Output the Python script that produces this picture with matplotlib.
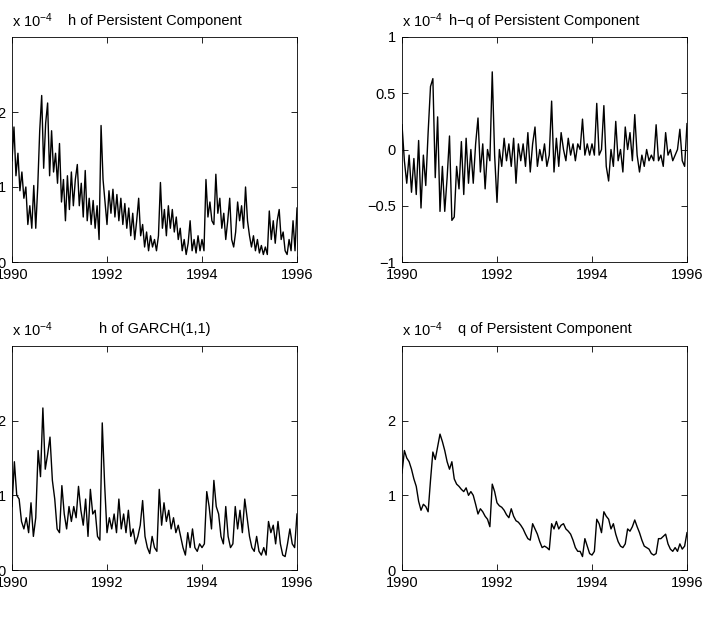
import numpy as np
import matplotlib.pyplot as plt

plt.rcParams['font.family'] = ['Liberation Sans', 'DejaVu Sans']
plt.rcParams['mathtext.fontset'] = 'custom'
plt.rcParams['mathtext.rm'] = 'Liberation Sans'
plt.rcParams['mathtext.it'] = 'Liberation Sans:italic'

# values in units of 1e-4
h_persistent = [
    1.35, 1.80, 1.15, 1.45, 0.95, 1.20, 0.85, 1.00, 0.50, 0.75, 0.45, 1.02,
    0.45, 1.00, 1.75, 2.22, 1.25, 1.85, 2.12, 1.15, 1.75, 1.20, 1.45, 1.05,
    1.58, 0.80, 1.10, 0.55, 1.15, 0.70, 1.20, 0.75, 1.10, 1.30, 0.75, 1.05,
    0.60, 1.22, 0.55, 0.85, 0.50, 0.82, 0.45, 0.75, 0.30, 1.82, 1.10, 0.80,
    0.50, 0.95, 0.65, 0.97, 0.60, 0.90, 0.55, 0.85, 0.50, 0.78, 0.45, 0.72,
    0.35, 0.65, 0.30, 0.55, 0.85, 0.35, 0.50, 0.20, 0.40, 0.15, 0.35, 0.20,
    0.30, 0.15, 0.35, 1.06, 0.45, 0.70, 0.35, 0.75, 0.45, 0.70, 0.40, 0.60,
    0.30, 0.45, 0.15, 0.30, 0.10, 0.25, 0.55, 0.15, 0.30, 0.12, 0.35, 0.15,
    0.30, 0.15, 1.10, 0.60, 0.80, 0.55, 0.50, 1.17, 0.65, 0.85, 0.45, 0.65,
    0.30, 0.55, 0.85, 0.30, 0.20, 0.40, 0.80, 0.55, 0.75, 0.45, 1.00, 0.55,
    0.35, 0.20, 0.35, 0.15, 0.30, 0.12, 0.22, 0.10, 0.20, 0.10, 0.68, 0.30,
    0.55, 0.25, 0.55, 0.70, 0.30, 0.40, 0.15, 0.10, 0.30, 0.15, 0.55, 0.15,
    0.72,
]

h_minus_q = [
    0.22, -0.10, -0.30, -0.05, -0.38, -0.08, -0.40, 0.08, -0.52, -0.05,
    -0.32, 0.15, 0.56, 0.63, -0.25, 0.29, -0.55, -0.15, -0.55, -0.25,
    0.12, -0.63, -0.60, -0.15, -0.35, 0.07, -0.40, 0.10, -0.30, 0.00,
    -0.30, 0.05, 0.28, -0.20, 0.05, -0.35, 0.00, -0.10, 0.69, -0.05,
    -0.47, 0.00, -0.15, 0.10, -0.10, 0.05, -0.15, 0.10, -0.30, 0.05,
    -0.10, 0.05, -0.15, 0.15, -0.20, 0.05, 0.20, -0.15, 0.00, -0.10,
    0.05, -0.15, -0.05, 0.43, -0.20, 0.10, -0.15, 0.15, 0.00, -0.10,
    0.10, -0.05, 0.05, -0.10, 0.05, 0.00, 0.27, -0.05, 0.05, -0.05,
    0.05, -0.05, 0.41, -0.05, 0.00, 0.39, -0.15, -0.28, 0.00, -0.15,
    0.25, -0.10, 0.00, -0.20, 0.20, 0.00, 0.15, -0.10, 0.31, -0.05,
    -0.20, -0.05, -0.15, 0.00, -0.10, -0.05, -0.10, 0.22, -0.10, -0.05,
    -0.15, 0.15, -0.05, 0.00, -0.10, -0.05, 0.00, 0.18, -0.10, -0.15,
    0.23,
]

h_garch = [
    0.85, 1.45, 1.00, 0.95, 0.65, 0.55, 0.70, 0.50, 0.90, 0.45,
    0.70, 1.60, 1.25, 2.17, 1.35, 1.55, 1.78, 1.20, 0.95, 0.55,
    0.50, 1.13, 0.75, 0.55, 0.85, 0.65, 0.85, 0.70, 1.12, 0.80,
    0.60, 0.95, 0.45, 1.08, 0.75, 0.80, 0.45, 0.40, 1.97, 1.15,
    0.50, 0.70, 0.55, 0.75, 0.50, 0.95, 0.55, 0.75, 0.50, 0.80,
    0.45, 0.55, 0.35, 0.45, 0.60, 0.93, 0.45, 0.30, 0.22, 0.45,
    0.30, 0.25, 1.08, 0.60, 0.90, 0.65, 0.80, 0.55, 0.70, 0.50,
    0.60, 0.45, 0.30, 0.20, 0.50, 0.30, 0.55, 0.30, 0.25, 0.35,
    0.30, 0.35, 1.05, 0.85, 0.55, 1.20, 0.85, 0.75, 0.45, 0.35,
    0.85, 0.45, 0.30, 0.35, 0.85, 0.55, 0.80, 0.50, 0.95, 0.70,
    0.45, 0.30, 0.25, 0.45, 0.25, 0.20, 0.30, 0.20, 0.65, 0.50,
    0.60, 0.35, 0.65, 0.35, 0.20, 0.18, 0.35, 0.55, 0.35, 0.30,
    0.75,
]

q_persistent = [
    1.30, 1.60, 1.50, 1.45, 1.35, 1.22, 1.12, 0.92, 0.80, 0.88,
    0.85, 0.78, 1.20, 1.58, 1.48, 1.65, 1.82, 1.72, 1.60, 1.45,
    1.35, 1.45, 1.22, 1.15, 1.12, 1.08, 1.05, 1.10, 1.00, 1.05,
    1.00, 0.88, 0.75, 0.82, 0.78, 0.72, 0.68, 0.58, 1.15, 1.05,
    0.90, 0.86, 0.84, 0.80, 0.74, 0.70, 0.82, 0.72, 0.66, 0.64,
    0.60, 0.55, 0.48, 0.42, 0.40, 0.62, 0.55, 0.48, 0.38, 0.30,
    0.32, 0.30, 0.27, 0.62, 0.55, 0.65, 0.55, 0.60, 0.62, 0.55,
    0.52, 0.48, 0.40, 0.30, 0.25, 0.25, 0.18, 0.42, 0.32, 0.22,
    0.20, 0.25, 0.68, 0.62, 0.50, 0.78, 0.72, 0.68, 0.55, 0.62,
    0.48, 0.38, 0.32, 0.30, 0.35, 0.55, 0.52, 0.58, 0.67, 0.58,
    0.50, 0.40, 0.32, 0.30, 0.28, 0.22, 0.20, 0.22, 0.42, 0.42,
    0.45, 0.48, 0.35, 0.28, 0.25, 0.30, 0.25, 0.35, 0.28, 0.32,
    0.50,
]

panels = [
    ('h of Persistent Component', h_persistent, (0, 3), [0, 1, 2], ['0', '1', '2']),
    ('h\u2212q of Persistent Component', h_minus_q, (-1, 1), [-1, -0.5, 0, 0.5, 1],
     ['\u22121', '\u22120.5', '0', '0.5', '1']),
    ('h of GARCH(1,1)', h_garch, (0, 3), [0, 1, 2], ['0', '1', '2']),
    ('q of Persistent Component', q_persistent, (0, 3), [0, 1, 2], ['0', '1', '2']),
]
years = [1990, 1992, 1994, 1996]

fig = plt.figure(figsize=(7.08, 6.21), dpi=100)
positions = [
    [12 / 708, 1 - 262 / 621, 285 / 708, 225 / 621],
    [402 / 708, 1 - 262 / 621, 285 / 708, 225 / 621],
    [12 / 708, 1 - 570 / 621, 285 / 708, 224 / 621],
    [402 / 708, 1 - 570 / 621, 285 / 708, 224 / 621],
]

for pos, (title, vals, ylim, yt, ytl) in zip(positions, panels):
    ax = fig.add_axes(pos)
    t = np.linspace(1990, 1996, len(vals))
    ax.plot(t, vals, color='black', lw=1.0)
    ax.set_xlim(1990, 1996)
    ax.set_ylim(*ylim)
    ax.set_xticks(years)
    ax.set_xticklabels([str(y) for y in years])
    ax.set_yticks(yt)
    ax.set_yticklabels(ytl)
    ax.tick_params(direction='in', top=True, right=True, length=4,
                   width=0.6, labelsize=10.5, pad=4.5)
    for s in ax.spines.values():
        s.set_linewidth(0.6)
    ax.set_title(title, fontsize=10.5, pad=9)
    ax.text(0, 1.03, r'x 10$^{-4}$', transform=ax.transAxes,
            fontsize=10.5, ha='left', va='bottom')

fig.savefig('out.png', dpi=100)
